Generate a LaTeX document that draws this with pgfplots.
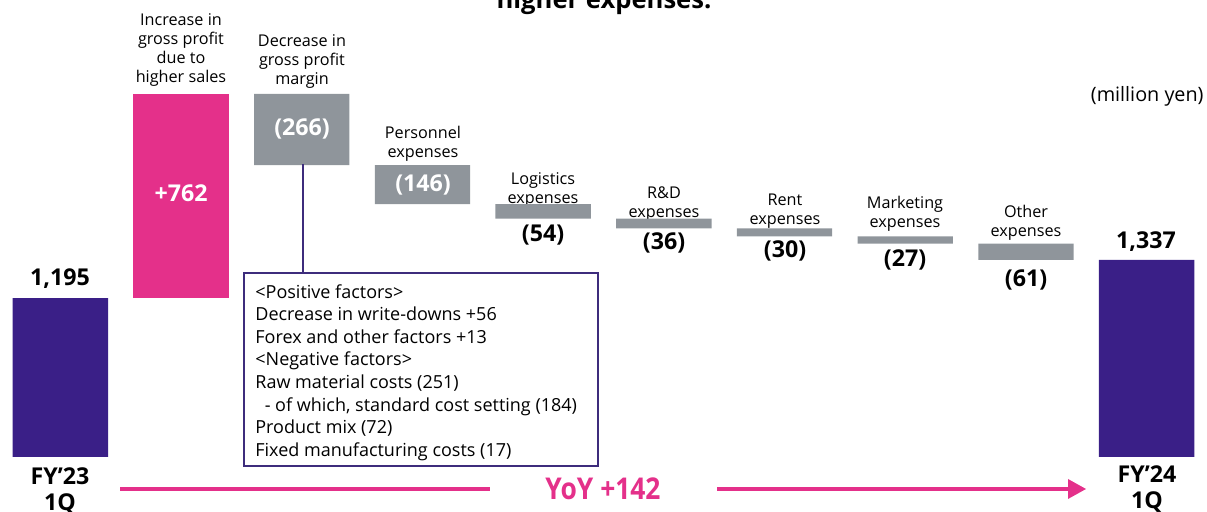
\documentclass[border=0pt]{standalone}
\usepackage{pgfplots}
\pgfplotsset{compat=1.18}
\usepackage{fontspec}
\setmainfont{Open Sans}
\definecolor{cpurple}{HTML}{3A1F87}
\definecolor{cpink}{HTML}{E4308A}
\definecolor{cgray}{HTML}{8F959B}
\definecolor{cbox}{HTML}{3D2C7C}
\newcommand\lab{\fontsize{8.1}{9.6}\selectfont}
\newcommand\val{\fontsize{11.6}{13}\selectfont\bfseries}
\begin{document}
\begin{tikzpicture}
\useasboundingbox (0,0) rectangle (603.5pt,256pt);
\clip (0,0) rectangle (603.5pt,256pt);
% category labels (behind bars)
\begin{scope}[x=0.5pt,y=-0.5pt,yshift=256pt]
\node[font=\fontsize{12.8}{14}\selectfont\bfseries, anchor=base] at (604,9) {higher expenses.};
\tikzset{lbl/.style={font=\lab, align=center, anchor=south, inner sep=0pt}}
\node[lbl] at (181,87) {Increase in\\gross profit\\due to\\higher sales};
\node[lbl] at (302,89) {Decrease in\\gross profit\\margin};
\node[lbl] at (423,162) {Personnel\\expenses};
\node[lbl] at (543,208) {Logistics\\expenses};
\node[lbl] at (664,222) {R\&D\\expenses};
\node[lbl] at (785,229) {Rent\\expenses};
\node[lbl] at (905,232) {Marketing\\expenses};
\node[lbl] at (1026,241) {Other\\expenses};
\node[font=\fontsize{9.9}{11}\selectfont, anchor=east, inner sep=0pt] at (1204,96) {(million yen)};
\end{scope}
\begin{axis}[at={(0,27.5pt)}, anchor=south west, width=603.5pt, height=228.5pt,
  scale only axis, xmin=-0.5, xmax=9.5, ymin=602, ymax=2307, hide axis,
  ybar stacked, bar width=0.79]
\addplot[draw=none, fill=none] coordinates {(0,0) (1,1195) (2,1691) (3,1545) (4,1491) (5,1455) (6,1425) (7,1398) (8,1337) (9,0)};
\addplot[draw=none, fill=cpurple] coordinates {(0,1195) (1,0) (2,0) (3,0) (4,0) (5,0) (6,0) (7,0) (8,0) (9,1337)};
\addplot[draw=none, fill=cpink] coordinates {(0,0) (1,762) (2,0) (3,0) (4,0) (5,0) (6,0) (7,0) (8,0) (9,0)};
\addplot[draw=none, fill=cgray] coordinates {(0,0) (1,0) (2,266) (3,146) (4,54) (5,36) (6,30) (7,27) (8,61) (9,0)};
\end{axis}
\begin{scope}[x=0.5pt,y=-0.5pt,yshift=256pt]
\tikzset{v/.style={font=\val, inner sep=0pt}}
\node[v] at (60,279) {1,195};
\node[v,white] at (181,193) {+762};
\node[v,white] at (302,129) {(266)};
\node[v,white] at (423,185) {(146)};
\node[v] at (543,235) {(54)};
\node[v] at (664,243) {(36)};
\node[v] at (785,251) {(30)};
\node[v] at (905,260) {(27)};
\node[v] at (1026,280) {(61)};
\node[v] at (1146,242) {1,337};
\node[v] at (60,476) {FY’23};
\node[v] at (60,504) {1Q};
\node[v] at (1147,474) {FY’24};
\node[v] at (1147,502) {1Q};
% connector and box
\draw[cbox, line width=0.75pt] (303,164) -- (303,273);
\draw[cbox, line width=0.75pt, fill=white] (244,273) rectangle (598,466);
\node[anchor=north west, align=left, inner sep=0pt, font=\fontsize{9}{11.3}\selectfont] at (255,284)
 {<Positive factors>\\Decrease in write-downs +56\\Forex and other factors +13\\<Negative factors>\\Raw material costs (251)\\\ \ - of which, standard cost setting (184)\\Product mix (72)\\Fixed manufacturing costs (17)};
% YoY arrow
\draw[cpink, line width=1.7pt] (120,489) -- (490,489);
\draw[cpink, line width=1.7pt] (717,489) -- (1070,489);
\fill[cpink] (1086,489) -- (1068,479) -- (1068,499) -- cycle;
\node[cpink, inner sep=0pt] at (603,489) {\scalebox{0.88}[1]{\fontsize{15}{17}\selectfont\bfseries YoY +142}};
\end{scope}
\end{tikzpicture}
\end{document}
